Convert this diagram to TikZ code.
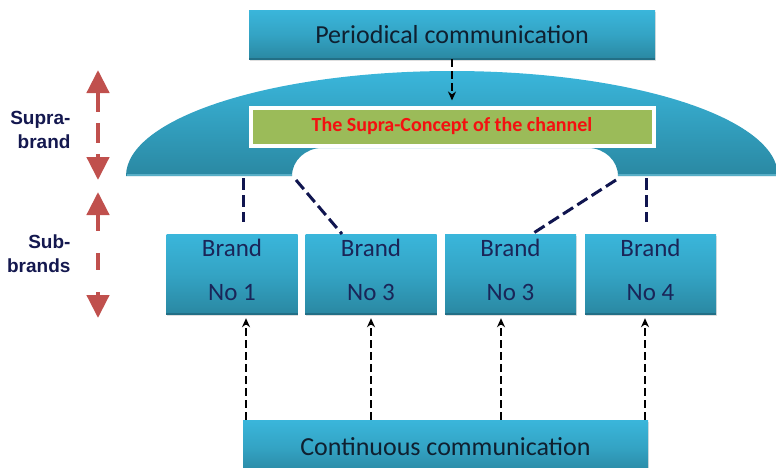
\documentclass[tikz,border=0pt]{standalone}
\usepackage{fontspec}
\setmainfont{Carlito}
\newfontfamily\sidefont{Liberation Sans}
\usetikzlibrary{arrows.meta,shadows}

\definecolor{cyanTop}{HTML}{3AB6DB}
\definecolor{cyanBot}{HTML}{2A88A2}
\definecolor{cyanEdge}{HTML}{226F86}
\definecolor{archEdge}{HTML}{58AEC6}
\definecolor{leafgreen}{HTML}{9BBB59}
\definecolor{navyline}{HTML}{10154F}
\definecolor{navytext}{HTML}{1A2558}
\definecolor{inktext}{HTML}{0F2030}
\definecolor{sidetext}{HTML}{14184F}
\definecolor{arrowred}{HTML}{C0504D}
\definecolor{conceptred}{HTML}{F41010}

\begin{document}
\begin{tikzpicture}[x=1pt,y=-1pt,
  panel/.style={top color=cyanTop, bottom color=cyanBot, middle color=cyanTop!60!cyanBot,
    inner sep=0pt, anchor=center,
    drop shadow={shadow xshift=0.8pt, shadow yshift=-1.5pt, opacity=0.25}},
  brandbox/.style={panel, minimum width=131pt, minimum height=80pt},
  brandtext/.style={align=center, inner sep=0pt, text=navytext,
    font=\fontsize{25}{44}\selectfont},
  commbox/.style={panel, text=inktext, font=\fontsize{26}{30}\selectfont},
  conceptbox/.style={fill=leafgreen, draw=white, line width=4pt, inner sep=0pt,
    minimum width=403pt, minimum height=38pt, text=conceptred,
    font=\bfseries\fontsize{20}{24}\selectfont,
    drop shadow={shadow xshift=1pt, shadow yshift=-2pt, opacity=0.35}},
  bottomedge/.style={cyanEdge, line width=1.6pt},
  navydash/.style={navyline, line width=3pt, dash pattern=on 12pt off 5pt},
  feed/.style={black, line width=1.7pt, dash pattern=on 8pt off 4pt,
    -{Stealth[length=9pt,width=8pt]}},
  sidearrow/.style={arrowred, line width=4.5pt,
    {Triangle[width=22pt,length=23pt]}-{Triangle[width=22pt,length=23pt]}},
  sidelabel/.style={anchor=east, align=right, text=sidetext,
    font=\sidefont\bfseries\fontsize{19}{24}\selectfont}]

\useasboundingbox (0,0) rectangle (776,467);
\clip (0,0) rectangle (776,467);

% the supra-brand dome with its notch underneath
\shade[top color=cyanTop, bottom color=cyanBot]
  (126,176) arc[start angle=180, end angle=360, x radius=326, y radius=105]
  -- (618,176) arc[start angle=0, end angle=-90, x radius=30, y radius=28]
  -- (322,148) arc[start angle=-90, end angle=-180, x radius=30, y radius=28]
  -- cycle;
\draw[archEdge, line width=1.5pt] (127,175.2) -- (292,175.2);
\draw[archEdge, line width=1.5pt] (618,175.2) -- (776,175.2);

% top and bottom communication panels
\node[commbox, minimum width=406pt, minimum height=49pt] (periodic) at (452,34.5)
  {Periodical communication};
\draw[bottomedge] (periodic.south west) -- (periodic.south east);
\node[commbox, minimum width=405pt, minimum height=54pt] (continuous) at (445.5,447)
  {Continuous communication};

% the supra-concept bar
\node[conceptbox] (concept) at (452,126.5) {The Supra-Concept of the channel};

% brand panels
\node[brandbox] (b1) at (232,274) {};
\node[brandbox] (b2) at (371,274) {};
\node[brandbox] (b3) at (510.5,274) {};
\node[brandbox] (b4) at (650.5,274) {};
\foreach \b in {b1,b2,b3,b4}
  \draw[bottomedge] (\b.south west) -- (\b.south east);
\node[brandtext] (t1) at ([yshift=4pt]b1.center) {Brand\\No 1};
\node[brandtext] (t2) at ([yshift=4pt]b2.center) {Brand\\No 3};
\node[brandtext] (t3) at ([yshift=4pt]b3.center) {Brand\\No 3};
\node[brandtext] (t4) at ([yshift=4pt]b4.center) {Brand\\No 4};

% links from the dome down to the brands
\coordinate (d1) at (243,178);
\coordinate (d2) at (296,180);
\coordinate (d3) at (616,180);
\coordinate (d4) at (646,178);
\coordinate (e2) at (342,234);
\coordinate (e3) at (532,234);
\draw[navydash, shorten >=12pt] (d1) -- (d1 |- b1.north);
\draw[navydash] (d2) -- (e2);
\draw[navydash] (d3) -- (e3);
\draw[navydash, shorten >=12pt] (d4) -- (d4 |- b4.north);

% periodical input into the concept
\draw[feed, shorten >=5pt] (periodic.south) -- (concept.north);

% continuous input into each brand
\coordinate (u1) at (246,0);
\coordinate (u2) at (371,0);
\coordinate (u3) at (501,0);
\coordinate (u4) at (645,0);
\draw[feed, shorten >=4pt] (u1 |- continuous.north) -- (u1 |- b1.south);
\draw[feed, shorten >=4pt] (u2 |- continuous.north) -- (u2 |- b2.south);
\draw[feed, shorten >=4pt] (u3 |- continuous.north) -- (u3 |- b3.south);
\draw[feed, shorten >=4pt] (u4 |- continuous.north) -- (u4 |- b4.south);

% level indicators on the left
\coordinate (s1) at (98,70);
\coordinate (s2) at (98,180);
\coordinate (s3) at (98,192);
\coordinate (s4) at (98,318);
\draw[sidearrow, dash pattern=on 20pt off 11pt] (s1) -- (s2);
\draw[sidearrow, dash pattern=on 17pt off 22pt] (s3) -- (s4);
\node[sidelabel] (supra) at (74,130) {Supra-\\brand};
\node[sidelabel] (sub) at (74,253.5) {Sub-\\brands};
\end{tikzpicture}
\end{document}
